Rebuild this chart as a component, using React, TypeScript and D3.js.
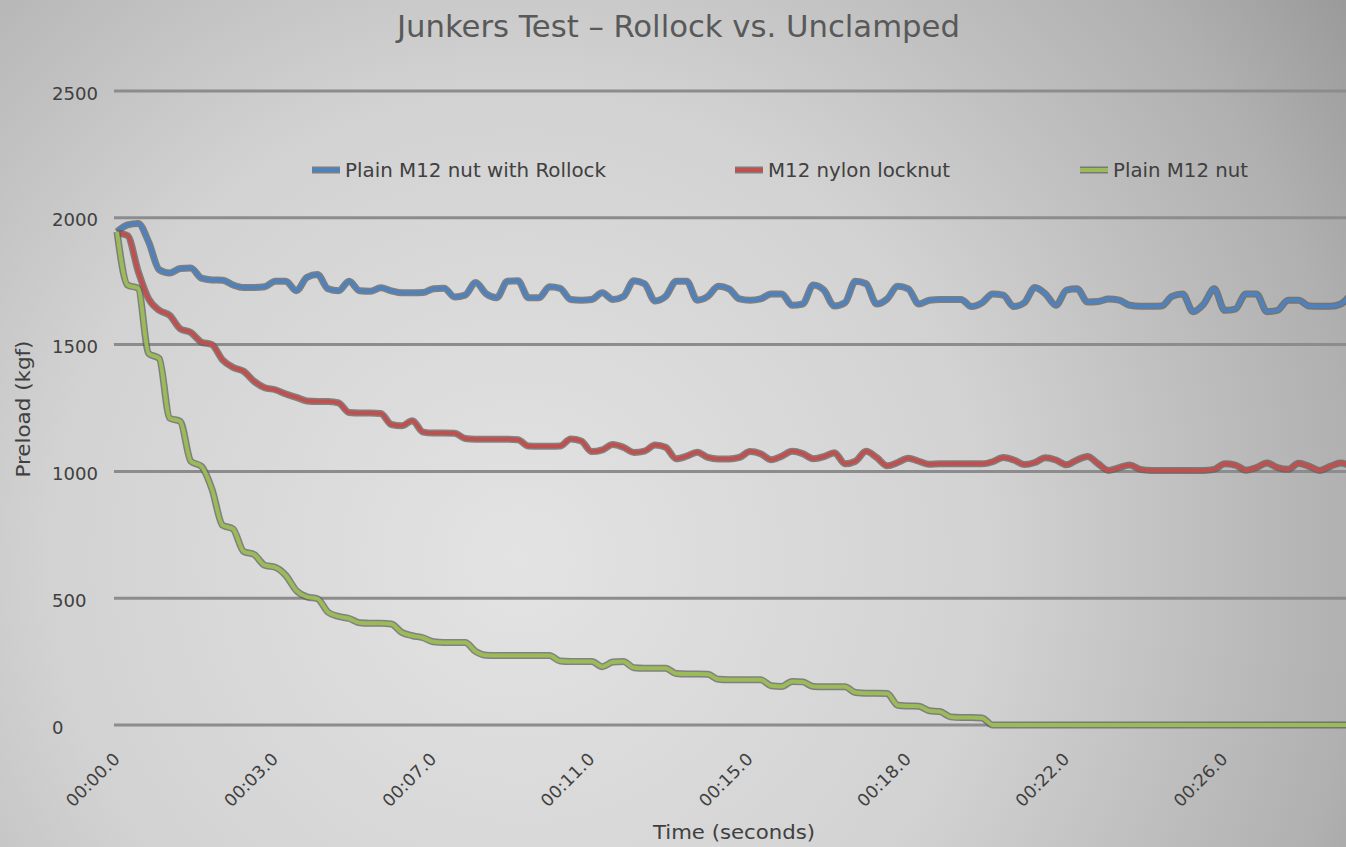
import React from "react";
import * as d3 from "d3";

// preload readings (kgf), one per sample
const rollock = [
  1945, 1972, 1978, 1905, 1795, 1782, 1800, 1802, 1762, 1755,
  1754, 1735, 1725, 1725, 1728, 1750, 1750, 1712, 1765, 1776,
  1720, 1712, 1750, 1712, 1710, 1724, 1712, 1704, 1704, 1705,
  1720, 1722, 1688, 1695, 1745, 1700, 1685, 1750, 1752, 1685,
  1685, 1728, 1722, 1678, 1675, 1678, 1704, 1678, 1690, 1752,
  1740, 1672, 1690, 1750, 1750, 1675, 1690, 1730, 1720, 1680,
  1675, 1680, 1700, 1700, 1655, 1660, 1735, 1715, 1652, 1665,
  1750, 1740, 1660, 1680, 1730, 1720, 1660, 1675, 1678, 1678,
  1678, 1650, 1665, 1700, 1695, 1650, 1665, 1725, 1700, 1655,
  1715, 1720, 1668, 1670, 1680, 1675, 1655, 1651, 1651, 1652,
  1690, 1700, 1630, 1660, 1720, 1635, 1640, 1700, 1700, 1630,
  1635, 1675, 1675, 1652, 1651, 1651, 1660, 1700,
];

const nylon = [
  1940, 1930, 1790, 1680, 1635, 1615, 1562, 1548, 1510, 1500,
  1440, 1410, 1395, 1355, 1330, 1322, 1305, 1292, 1278, 1276,
  1276, 1270, 1232, 1230, 1230, 1228, 1185, 1180, 1200, 1155,
  1151, 1151, 1150, 1130, 1127, 1127, 1127, 1127, 1125, 1100,
  1099, 1099, 1100, 1128, 1120, 1078, 1085, 1106, 1095, 1075,
  1080, 1104, 1095, 1050, 1060, 1076, 1055, 1049, 1049, 1055,
  1078, 1070, 1046, 1060, 1079, 1070, 1050, 1058, 1074, 1030,
  1040, 1079, 1055, 1022, 1035, 1052, 1040, 1028, 1030, 1030,
  1030, 1030, 1030, 1038, 1055, 1045, 1027, 1035, 1054, 1045,
  1026, 1045, 1059, 1030, 1004, 1015, 1025, 1008, 1004, 1004,
  1004, 1004, 1004, 1004, 1008, 1030, 1025, 1005, 1015, 1033,
  1015, 1008, 1032, 1020, 1004, 1020, 1033, 1020,
];

const plain = [
  1945, 1735, 1722, 1465, 1445, 1210, 1197, 1040, 1020, 930,
  788, 773, 684, 672, 630, 622, 590, 530, 505, 498,
  445, 428, 420, 403, 401, 401, 398, 365, 352, 344,
  328, 325, 325, 325, 290, 275, 274, 274, 274, 274,
  274, 274, 252, 250, 250, 250, 230, 248, 250, 226,
  224, 224, 224, 203, 201, 201, 200, 180, 178, 178,
  178, 178, 155, 152, 172, 170, 152, 151, 151, 151,
  128, 125, 125, 124, 78, 75, 74, 56, 53, 32,
  30, 30, 28, 0, 0, 0, 0, 0, 0, 0,
  0, 0, 0, 0, 0, 0, 0, 0, 0, 0,
  0, 0, 0, 0, 0, 0, 0, 0, 0, 0,
  0, 0, 0, 0, 0, 0, 0, 0,
];

const tickLabels = ["00:00.0", "00:03.0", "00:07.0", "00:11.0", "00:15.0", "00:18.0", "00:22.0", "00:26.0"];
const labelEvery = 15;
const yTicks = [0, 500, 1000, 1500, 2000, 2500];

const series = [
  { name: "Plain M12 nut with Rollock", values: rollock, color: "#4f81bd" },
  { name: "M12 nylon locknut", values: nylon, color: "#c0504d" },
  { name: "Plain M12 nut", values: plain, color: "#9bbb59" },
];

const W = 1346;
const H = 847;
const font = "'DejaVu Sans Condensed', 'Liberation Sans', sans-serif";

export default function App() {
  const n = rollock.length;
  const x = d3.scaleLinear().domain([0, n - 1]).range([117, 117 + (n - 1) * 10.55]);
  const y = d3.scaleLinear().domain([0, 2500]).range([725, 91]);

  const line = d3.line<number>()
    .x((d, i) => x(i))
    .y(d => y(d))
    .curve(d3.curveMonotoneX);

  // legend item positions and text widths
  const legendPos = [312, 735, 1080];
  const legendLen = [261, 182, 135];

  return (
    <svg width={W} height={H} style={{ position: "absolute", left: 0, top: 0 }}>
      <defs>
        <radialGradient id="bg" gradientUnits="userSpaceOnUse" cx={520} cy={560} r={1050}>
          <stop offset="0" stopColor="#e3e3e3" />
          <stop offset="0.45" stopColor="#d2d2d2" />
          <stop offset="0.8" stopColor="#b0b0b0" />
          <stop offset="1" stopColor="#939393" />
        </radialGradient>
      </defs>
      <rect width={W} height={H} fill="url(#bg)" />

      {yTicks.map(t => (
        <g key={t}>
          <line x1={114} x2={W} y1={y(t)} y2={y(t)} stroke="#8c8c8c" strokeWidth={3} />
          <text x={52} y={y(t) + 8.5} fontFamily={font} fontSize={17} fill="#404040"
            textLength={String(t).length * 11.5} lengthAdjust="spacingAndGlyphs">{t}</text>
        </g>
      ))}

      {series.map(s => (
        <g key={s.name}>
          <path d={line(s.values) || ""} fill="none" stroke="#5a5a5a" strokeOpacity={0.7} strokeWidth={7} strokeLinejoin="round" />
          <path d={line(s.values) || ""} fill="none" stroke={s.color} strokeWidth={4} strokeLinejoin="round" />
        </g>
      ))}

      {tickLabels.map((lab, k) => {
        const tx = x(k * labelEvery);
        return (
          <text key={lab} transform={`translate(${tx + 4},${760}) rotate(-45)`} textAnchor="end"
            fontFamily={font} fontSize={17} fill="#404040"
            textLength={68} lengthAdjust="spacingAndGlyphs">{lab}</text>
        );
      })}

      <text x={678.5} y={37} textAnchor="middle" fontFamily={font} fontSize={31} fill="#595959"
        textLength={563} lengthAdjust="spacingAndGlyphs">
        Junkers Test – Rollock vs. Unclamped
      </text>

      {series.map((s, i) => (
        <g key={s.name} transform={`translate(${legendPos[i]},170)`}>
          <line x1={0} x2={28} y1={0} y2={0} stroke="#5a5a5a" strokeOpacity={0.7} strokeWidth={7} />
          <line x1={0} x2={28} y1={0} y2={0} stroke={s.color} strokeWidth={4} />
          <text x={33} y={7} fontFamily={font} fontSize={19} fill="#404040"
            textLength={legendLen[i]} lengthAdjust="spacingAndGlyphs">{s.name}</text>
        </g>
      ))}

      <text transform="translate(30,409) rotate(-90)" textAnchor="middle" fontFamily={font}
        fontSize={19} fill="#404040" textLength={137} lengthAdjust="spacingAndGlyphs">Preload (kgf)</text>
      <text x={734} y={839} textAnchor="middle" fontFamily={font} fontSize={19} fill="#404040"
        textLength={162} lengthAdjust="spacingAndGlyphs">Time (seconds)</text>
    </svg>
  );
}
